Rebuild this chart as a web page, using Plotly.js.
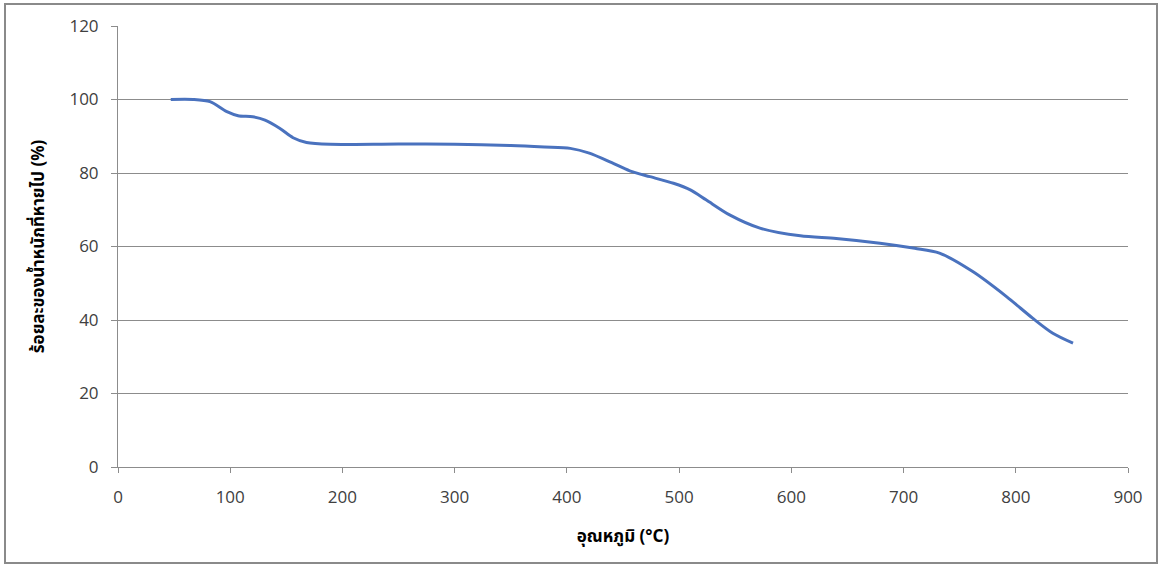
<!DOCTYPE html>
<html>
<head>
<meta charset="utf-8">
<script src="https://cdn.plot.ly/plotly-3.0.1.min.js"></script>
<style>
  html, body { margin: 0; padding: 0; background: #ffffff; }
  #chart { width: 1162px; height: 566px; }
</style>
</head>
<body>
<div id="chart"></div>
<script>
// Temperature (°C)
const temperature = [47, 67, 82, 97, 107, 120, 131, 144, 156, 168, 189, 250, 300, 350, 380, 403, 420, 440, 456, 474, 495, 510, 524, 545, 572, 608, 640, 679, 710, 732, 762, 792, 815, 833, 851];
// Remaining weight (%)
const weightPercent = [100, 100, 99.4, 96.7, 95.6, 95.3, 94.4, 92.2, 89.6, 88.3, 87.8, 87.9, 87.8, 87.5, 87.1, 86.7, 85.4, 82.8, 80.6, 79, 77.2, 75.4, 72.7, 68.6, 65, 62.9, 62.2, 60.9, 59.5, 58.2, 53.1, 46.3, 40.5, 36.4, 33.7];

const xTicks = [0, 100, 200, 300, 400, 500, 600, 700, 800, 900];
const yTicks = [0, 20, 40, 60, 80, 100, 120];
const xTitle = 'อุณหภูมิ (°C)';
const yTitle = 'ร้อยละของน้ำหนักที่หายไป (%)';

const trace = {
  x: temperature,
  y: weightPercent,
  type: 'scatter',
  mode: 'lines',
  line: { color: '#4A72BE', width: 3, shape: 'spline', smoothing: 0.8 },
  hoverinfo: 'x+y'
};

const tickFont = { family: '"Open Sans", "Noto Sans", sans-serif', size: 17, color: '#404040' };
const titleFont = { family: '"Noto Sans", "Noto Sans Thai", "DejaVu Sans", sans-serif', size: 17, color: '#000000', weight: 'bold' };

const layout = {
  width: 1162,
  height: 566,
  margin: { l: 118, r: 34, t: 26, b: 99, pad: 0 },
  paper_bgcolor: '#ffffff',
  plot_bgcolor: '#ffffff',
  showlegend: false,
  xaxis: {
    range: [0, 900],
    tickvals: xTicks,
    ticktext: xTicks.map(String),
    showgrid: false,
    zeroline: false,
    showline: true,
    linecolor: '#8c8c8c',
    linewidth: 1,
    ticks: 'outside',
    ticklen: 5,
    tickcolor: '#8c8c8c',
    tickfont: tickFont,
    ticklabelstandoff: 10,
    title: { text: xTitle, font: titleFont, standoff: 22 }
  },
  yaxis: {
    range: [0, 120],
    tickvals: yTicks,
    ticktext: yTicks.map(String),
    showgrid: true,
    gridcolor: '#8c8c8c',
    gridwidth: 1,
    zeroline: false,
    showline: true,
    linecolor: '#8c8c8c',
    linewidth: 1,
    ticks: 'outside',
    ticklen: 6,
    tickcolor: '#8c8c8c',
    tickfont: tickFont,
    ticklabelstandoff: 9,
    title: { text: yTitle, font: titleFont, standoff: 20 }
  },
  shapes: [{
    type: 'rect',
    xref: 'paper', yref: 'paper',
    x0: (5 - 118) / 1010, x1: (1157 - 118) / 1010,
    y0: (467 - 563) / 441, y1: (467 - 4) / 441,
    line: { color: '#8a8a8a', width: 2 },
    fillcolor: 'rgba(0,0,0,0)',
    layer: 'below'
  }]
};

Plotly.newPlot('chart', [trace], layout, { displayModeBar: false, staticPlot: true });
</script>
</body>
</html>
